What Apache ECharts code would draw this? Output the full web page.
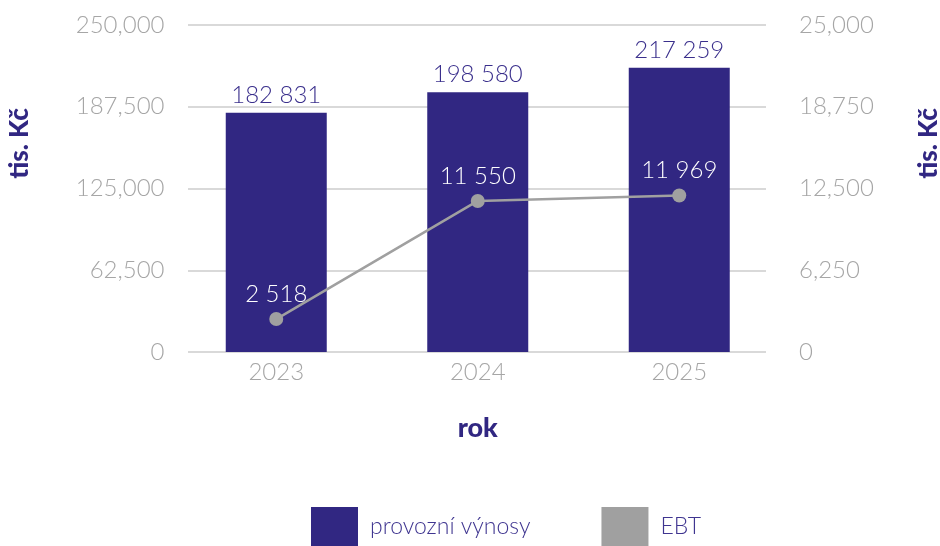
<!DOCTYPE html>
<html>
<head>
<meta charset="utf-8">
<script src="https://cdn.jsdelivr.net/npm/echarts@6/dist/echarts.min.js"></script>
<style>
  html, body { margin: 0; padding: 0; background: #fff; }
  #chart { width: 940px; height: 546px; }
</style>
</head>
<body>
<div id="chart"></div>
<script>
// data
const years = ['2023', '2024', '2025'];
const revenue = [182831, 198580, 217259];   // provozní výnosy
const ebt = [2518, 11550, 11969];           // EBT
const seriesNames = ['provozní výnosy', 'EBT'];
// axis scales (tick labels come from these)
const leftScale = [0, 250000, 62500];
const rightScale = [0, 25000, 6250];

const purple = '#312782';
const grey = '#a0a0a0';
const font = 'Lato';

const spaced = v => String(v).replace(/\B(?=(\d{3})+(?!\d))/g, ' ');
const commas = v => String(v).replace(/\B(?=(\d{3})+(?!\d))/g, ',');

const chart = echarts.init(document.getElementById('chart'));
chart.setOption({
  animation: false,
  textStyle: { fontFamily: font },
  grid: [
    // data grid
    { left: 175.5, width: 604.5, top: 25, height: 327, outerBoundsMode: 'none', containLabel: false },
    // gridline only (a bit narrower, like the original)
    { left: 188, width: 578, top: 25, height: 327, outerBoundsMode: 'none', containLabel: false }
  ],
  legend: {
    left: 311,
    top: 507,
    padding: 0,
    itemWidth: 47,
    itemHeight: 40,
    itemGap: 71,
    icon: 'rect',
    textStyle: { fontFamily: font, fontWeight: 300, fontSize: 23, color: '#3f3590', padding: [0, 0, 0, 7] },
    data: seriesNames
  },
  xAxis: [
    {
      type: 'category',
      gridIndex: 0,
      data: years,
      axisLine: { show: false },
      axisTick: { show: false },
      axisLabel: { color: '#a6a6a6', fontSize: 24, fontWeight: 300, margin: 8 },
      name: 'rok',
      nameLocation: 'middle',
      nameGap: 63,
      nameTextStyle: { color: purple, fontSize: 27, fontWeight: 900 }
    },
    { type: 'value', gridIndex: 1, show: false }
  ],
  yAxis: [
    {
      type: 'value',
      gridIndex: 0,
      min: leftScale[0], max: leftScale[1], interval: leftScale[2],
      splitLine: { show: false },
      axisLabel: { color: '#a6a6a6', fontSize: 24, fontWeight: 300, margin: 11, formatter: commas },
      name: 'tis. Kč',
      nameLocation: 'middle',
      nameRotate: 90,
      nameGap: 143,
      nameTextStyle: { color: purple, fontSize: 26, fontWeight: 900, padding: [0, 0, 0, 90] }
    },
    {
      type: 'value',
      gridIndex: 0,
      position: 'right',
      min: rightScale[0], max: rightScale[1], interval: rightScale[2],
      splitLine: { show: false },
      axisLabel: { color: '#a6a6a6', fontSize: 24, fontWeight: 300, margin: 19, formatter: commas },
      name: 'tis. Kč',
      nameLocation: 'middle',
      nameRotate: 90,
      nameGap: 136,
      nameTextStyle: { color: purple, fontSize: 26, fontWeight: 900, padding: [0, 0, 0, 90] }
    },
    {
      type: 'value',
      gridIndex: 1,
      min: leftScale[0], max: leftScale[1], interval: leftScale[2],
      axisLabel: { show: false },
      axisLine: { show: false },
      axisTick: { show: false },
      splitLine: { lineStyle: { color: '#d9d9d9', width: 2 } }
    }
  ],
  series: [
    {
      name: seriesNames[0],
      type: 'bar',
      xAxisIndex: 0,
      yAxisIndex: 0,
      data: revenue,
      barWidth: 101,
      z: 3,
      itemStyle: { color: purple },
      label: {
        show: true,
        position: 'top',
        distance: 6,
        color: '#3a2f8c',
        fontSize: 24,
        fontWeight: 300,
        formatter: p => spaced(p.value)
      }
    },
    {
      name: seriesNames[1],
      type: 'line',
      xAxisIndex: 0,
      yAxisIndex: 1,
      data: ebt,
      z: 4,
      symbol: 'circle',
      symbolSize: 14,
      lineStyle: { color: grey, width: 2.5 },
      itemStyle: { color: grey },
      label: {
        show: true,
        position: 'top',
        distance: 6,
        color: '#ffffff',
        fontSize: 24,
        fontWeight: 300,
        formatter: p => spaced(p.value)
      }
    }
  ]
});
</script>
</body>
</html>
